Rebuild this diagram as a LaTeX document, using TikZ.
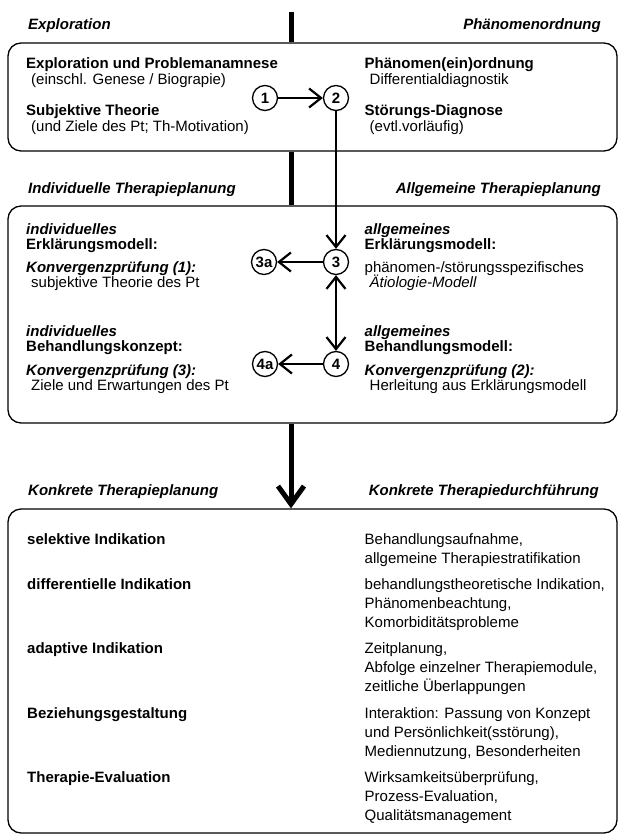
\documentclass[tikz,border=0pt]{standalone}
\usepackage{fontspec}
\setmainfont{Liberation Sans}
\usetikzlibrary{arrows.meta}
\tikzset{>={Straight Barb[length=12pt,width=19pt,line width=2.2pt]}}
\colorlet{ink}{black}
\tikzstyle{panel}=[draw=ink,line width=1.3pt,rounded corners=13pt,minimum width=609pt,inner sep=0pt]
\tikzstyle{num}=[circle,draw=ink,line width=1.3pt,minimum size=25pt,inner sep=0pt,font=\bfseries]
\tikzstyle{link}=[line width=2pt,ink]
\tikzstyle{bar}=[line width=5pt,ink]
\tikzstyle{head}=[inner sep=0pt,font=\bfseries\itshape]
\tikzstyle{txt}=[anchor=north west,align=left,inner sep=0pt]
\tikzstyle{txtA}=[txt,font=\fontsize{15}{16.5}\selectfont]
\tikzstyle{txtB}=[txt,font=\fontsize{15}{15}\selectfont]
\tikzstyle{txtC}=[txt,font=\fontsize{15}{19}\selectfont]
\newcommand\ind{\hspace*{5pt}}

\begin{document}
\fontsize{15}{16}\selectfont
\setlength{\lineskiplimit}{-10pt}
\begin{tikzpicture}[x=1pt,y=-1pt]
  \useasboundingbox (0,0) rectangle (618,834);
  \coordinate (stem) at (291,12); % top of the spine

  % PANELS
  \node[panel,minimum height=108pt] (box1) at (312.5,97) {};
  \node[panel,minimum height=217pt] (box2) at (312.5,314.5) {};
  \node[panel,minimum height=324pt] (box3) at (312.5,671) {};
  \draw[bar] (stem) -- (box1.north -| stem);
  \draw[bar] (box1.south -| stem) -- (box2.north -| stem);
  \draw[bar,-{Straight Barb[length=18pt,width=26pt]}]
    (box2.south -| stem) -- (box3.north -| stem);

  % HEADINGS
  \node[head,anchor=north west] (hExpl) at (28,18) {Exploration};
  \node[head,anchor=north east] (hPhaen) at (601,18) {Phänomenordnung};
  \node[head,anchor=north west] (hIndiv) at (28,182) {Individuelle Therapieplanung};
  \node[head,anchor=north east] (hAllg) at (601,182) {Allgemeine Therapieplanung};
  \node[head,anchor=north west] (hKonkP) at (28,484) {Konkrete Therapieplanung};
  \node[head,anchor=north east] (hKonkD) at (599,484) {Konkrete Therapiedurchführung};

  % STEPS
  \node[num] (c1) at (265,98) {1};
  \node[num] (c2) at (336,98) {2};
  \node[num] (c3) at (336,262) {3};
  \node[num] (c3a) at (264,262) {3a};
  \node[num] (c4) at (336,364) {4};
  \node[num] (c4a) at (265,364) {4a};
  \draw[link,->] (c1) -- (c2);
  \draw[link,->] (c2) -- (c3);
  \draw[link,<->] (c3) -- (c4);
  \draw[link,->] (c3) -- (c3a);
  \draw[link,->] (c4) -- (c4a);

  % top panel
  \node[txtA] (explo) at (26,57) {\textbf{Exploration und Problemanamnese}\\\ind(einschl. Genese / Biograpie)};
  \node[txtA] (subj) at (26,104) {\textbf{Subjektive Theorie}\\\ind(und Ziele des Pt; Th-Motivation)};
  \node[txtA] (phaen) at (364.5,57) {\textbf{Phänomen(ein)ordnung}\\\ind Differentialdiagnostik};
  \node[txtA] (diag) at (364.5,104) {\textbf{Störungs-Diagnose}\\\ind(evtl.vorläufig)};

  % middle panel
  \node[txtB] (indE) at (26,223) {\textbf{\textit{individuelles}}\\\textbf{Erklärungsmodell:}};
  \node[txtB] (konv1) at (26,261) {\textbf{\textit{Konvergenzprüfung (1):}}\\\ind subjektive Theorie des Pt};
  \node[txtB] (indB) at (26,325) {\textbf{\textit{individuelles}}\\\textbf{Behandlungskonzept:}};
  \node[txtB] (konv3) at (26,364) {\textbf{\textit{Konvergenzprüfung (3):}}\\\ind Ziele und Erwartungen des Pt};
  \node[txtB] (allgE) at (364.5,223) {\textbf{\textit{allgemeines}}\\\textbf{Erklärungsmodell:}};
  \node[txtB] (spez) at (364.5,261) {phänomen-/störungsspezifisches\\\ind\textit{Ätiologie-Modell}};
  \node[txtB] (allgB) at (364.5,325) {\textbf{\textit{allgemeines}}\\\textbf{Behandlungsmodell:}};
  \node[txtB] (konv2) at (364.5,364) {\textbf{\textit{Konvergenzprüfung (2):}}\\\ind Herleitung aus Erklärungsmodell};

  % bottom panel
  \node[txtC] (sel) at (27,533) {\textbf{selektive Indikation}};
  \node[txtC] (diff) at (27,578) {\textbf{differentielle Indikation}};
  \node[txtC] (adap) at (27,642) {\textbf{adaptive Indikation}};
  \node[txtC] (bez) at (27,707) {\textbf{Beziehungsgestaltung}};
  \node[txtC] (eval) at (27,771) {\textbf{Therapie-Evaluation}};
  \node[txtC] (selR) at (364.5,533) {Behandlungsaufnahme,\\allgemeine Therapiestratifikation};
  \node[txtC] (diffR) at (364.5,578) {behandlungstheoretische Indikation,\\Phänomenbeachtung,\\Komorbiditätsprobleme};
  \node[txtC] (adapR) at (364.5,642) {Zeitplanung,\\Abfolge einzelner Therapiemodule,\\zeitliche Überlappungen};
  \node[txtC] (bezR) at (364.5,707) {Interaktion: Passung von Konzept\\und Persönlichkeit(sstörung),\\Mediennutzung, Besonderheiten};
  \node[txtC] (evalR) at (364.5,771) {Wirksamkeitsüberprüfung,\\Prozess-Evaluation,\\Qualitätsmanagement};
\end{tikzpicture}
\end{document}
